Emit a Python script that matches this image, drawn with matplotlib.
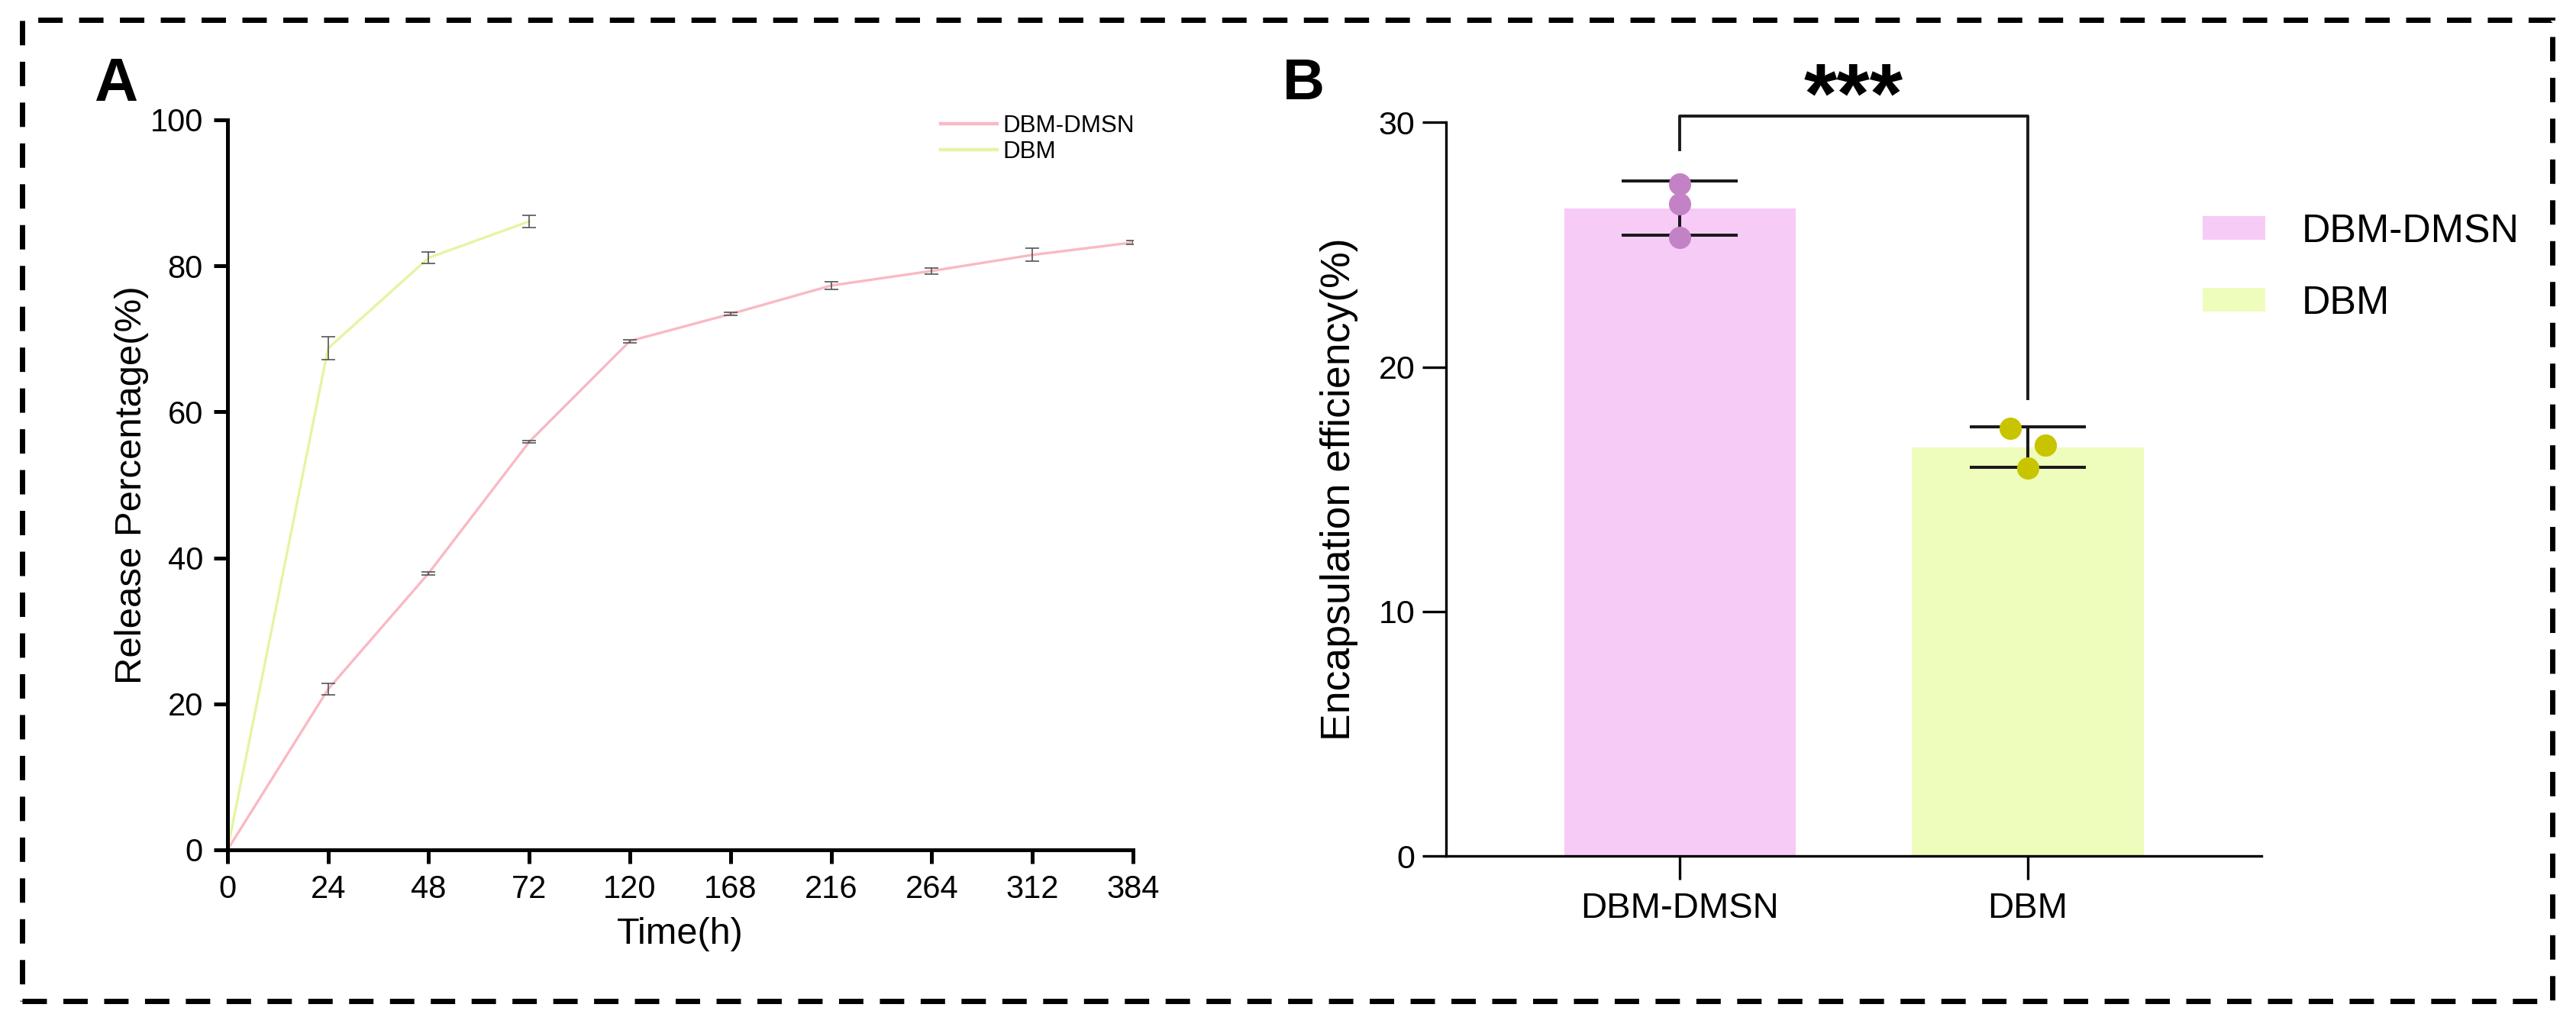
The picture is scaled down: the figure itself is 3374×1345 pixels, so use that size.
import numpy as np
import matplotlib

matplotlib.use('Agg')
import matplotlib.pyplot as plt
from matplotlib.patches import Patch, Rectangle

plt.rcParams['font.family'] = ['Liberation Sans', 'DejaVu Sans']

# ---- Panel A: cumulative release ----
time_labels = ['0', '24', '48', '72', '120', '168', '216', '264', '312', '384']
dmsn_release = [0, 22.0, 37.9, 55.9, 69.7, 73.4, 77.3, 79.3, 81.5, 83.2]
dmsn_release_err = [0, 0.8, 0.2, 0.2, 0.2, 0.2, 0.5, 0.45, 0.9, 0.3]
dbm_release = [0, 68.7, 81.1, 86.1]
dbm_release_err = [0, 1.6, 0.75, 0.85]

# ---- Panel B: encapsulation efficiency (3 replicates each) ----
groups = ['DBM-DMSN', 'DBM']
ee_dmsn = [27.5, 26.68, 25.31]
ee_dbm = [17.5, 16.8, 15.86]
jitter_dmsn = [0.0, 0.0, 0.0]
jitter_dbm = [-0.05, 0.05, 0.0]

pink_line = '#F9B9C3'
green_line = '#E4F5A2'
pink_bar = '#F6CBF6'
green_bar = '#EEFCBC'
pink_dot = '#C382C6'
green_dot = '#C8C400'

fig = plt.figure(figsize=(16.87, 6.725), dpi=200)

# dashed frame around both panels
fig.patches.append(Rectangle((0.0086, 0.0253), 0.9822, 0.9554, transform=fig.transFigure,
                             fill=False, edgecolor='black', linewidth=2.5,
                             linestyle=(0, (4.6, 3.1)), zorder=0))

# ================= A =================
axA = fig.add_axes([0.0883, 0.1725, 0.3515, 0.7108])
x = np.arange(len(time_labels))
xd = x[:len(dbm_release)]
axA.plot(x, dmsn_release, color=pink_line, lw=1.2, label='DBM-DMSN', zorder=2)
axA.plot(xd, dbm_release, color=green_line, lw=1.2, label='DBM', zorder=2)
axA.errorbar(x[1:], dmsn_release[1:], yerr=dmsn_release_err[1:], fmt='none',
             ecolor='#555555', elinewidth=0.6, capsize=3.3, capthick=0.6, zorder=3)
axA.errorbar(xd[1:], dbm_release[1:], yerr=dbm_release_err[1:], fmt='none',
             ecolor='#555555', elinewidth=0.6, capsize=3.3, capthick=0.6, zorder=3)
axA.set_xlim(0, len(time_labels) - 1)
axA.set_ylim(0, 100)
axA.set_xticks(x)
axA.set_xticklabels(time_labels)
axA.set_yticks([0, 20, 40, 60, 80, 100])
for s in ['top', 'right']:
    axA.spines[s].set_visible(False)
for s in ['left', 'bottom']:
    axA.spines[s].set_linewidth(1.8)
axA.tick_params(axis='both', length=6.5, width=1.8, labelsize=15, pad=5)
axA.set_xlabel('Time(h)', fontsize=17.5, va='center')
axA.xaxis.set_label_coords(0.5, -0.116)
axA.set_ylabel('Release Percentage(%)', fontsize=17.7, va='center')
axA.yaxis.set_label_coords(-0.1054, 0.5)
legA = axA.legend(loc='upper left', bbox_to_anchor=(1232 / 3374, 1 - 150 / 1345),
                  bbox_transform=fig.transFigure, frameon=False, fontsize=11.3,
                  handlelength=2.36, handletextpad=0.22, labelspacing=0.12,
                  borderpad=0, borderaxespad=0)
for h in legA.legend_handles:
    h.set_linewidth(1.6)
fig.text(152 / 3374, 1 - 132 / 1345, 'A', fontsize=28.5, fontweight='bold',
         ha='center', va='baseline')

# ================= B =================
axB = fig.add_axes([0.5614, 0.1665, 0.3165, 0.7142])
pos = np.arange(len(groups))
reps = [ee_dmsn, ee_dbm]
jitters = [jitter_dmsn, jitter_dbm]
means = [np.mean(r) for r in reps]
sds = [np.std(r, ddof=1) for r in reps]
bar_colors = [pink_bar, green_bar]
dot_colors = [pink_dot, green_dot]
axB.bar(pos, means, width=0.665, color=bar_colors, zorder=1)
axB.errorbar(pos, means, yerr=sds, fmt='none', ecolor='#1a1a1a', elinewidth=1.45,
             capsize=27.5, capthick=1.45, zorder=3)
for p, r, j, c in zip(pos, reps, jitters, dot_colors):
    axB.plot(p + np.array(j), r, 'o', ms=10.5, color=c, mec='none', zorder=4)
axB.set_xlim(-0.671, 1.671)
axB.set_ylim(0, 30)
axB.set_yticks([0, 10, 20, 30])
axB.set_xticks(pos)
axB.set_xticklabels(groups)
for s in ['top', 'right']:
    axB.spines[s].set_visible(False)
for s in ['left', 'bottom']:
    axB.spines[s].set_linewidth(1.2)
axB.tick_params(axis='both', length=11, width=1.2)
axB.tick_params(axis='y', labelsize=15.5, pad=3.6)
axB.tick_params(axis='x', labelsize=17, pad=5.8)
axB.set_ylabel('Encapsulation efficiency(%)', fontsize=19.3, va='center')
axB.yaxis.set_label_coords(-0.131, 0.5)

# significance bracket
axB.plot([0, 0, 1, 1], [28.9, 30.25, 30.25, 18.7], color='#1a1a1a', lw=1.4,
         clip_on=False, zorder=3)
axB.text(0.5, 30.0, '***', fontsize=40, fontweight='bold', ha='center', va='baseline')

legB_handles = [Patch(facecolor=c, edgecolor='none', label=g) for c, g in zip(bar_colors, groups)]
axB.legend(handles=legB_handles, loc='upper left', bbox_to_anchor=(2885 / 3374, 1 - 279 / 1345),
           bbox_transform=fig.transFigure, frameon=False, fontsize=18.7,
           handlelength=1.58, handleheight=0.54, handletextpad=0.92, labelspacing=0.87,
           borderpad=0, borderaxespad=0)
fig.text(1707 / 3374, 1 - 130 / 1345, 'B', fontsize=27.5, fontweight='bold',
         ha='center', va='baseline')

fig.savefig('out.png', dpi=200)
